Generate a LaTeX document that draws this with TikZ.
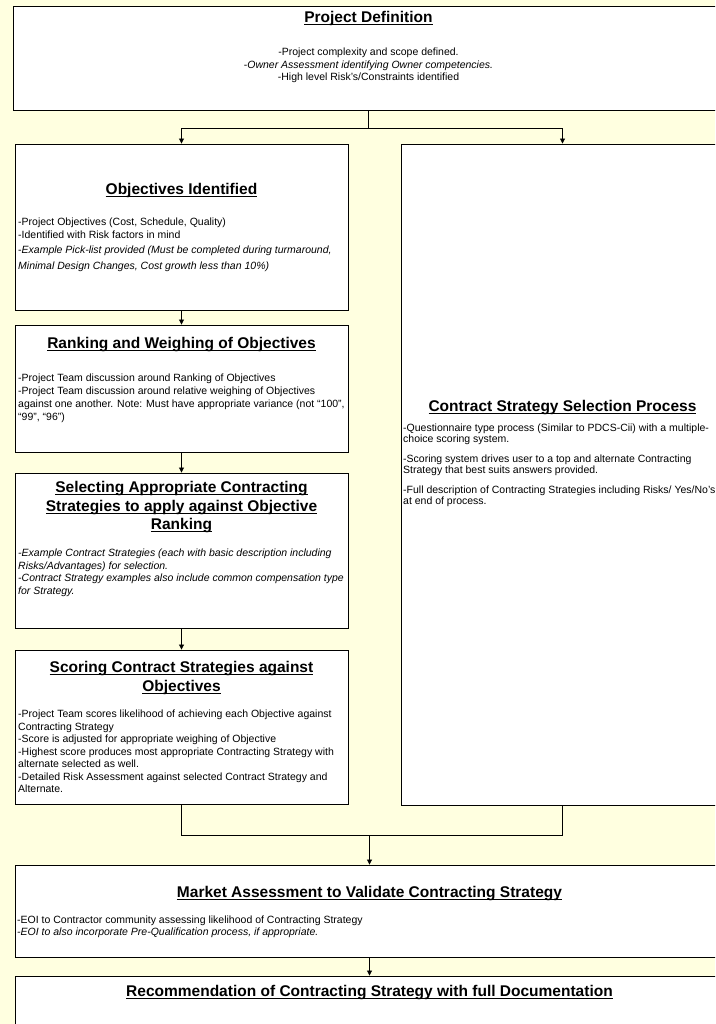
\documentclass[tikz,border=0pt]{standalone}
\usepackage{fontspec}
\setmainfont{Liberation Sans}
\usepackage{tikz}
\usetikzlibrary{arrows.meta,fit}
\definecolor{paper}{RGB}{255,255,224}
\newcommand{\lines}{0.9pt}
\newcommand{\titlesize}{\fontsize{15.5}{18.7}\selectfont\bfseries}
\newcommand{\bodysize}{\fontsize{10.5}{12.5}\selectfont}
\newcommand{\undertitle}[1]{\setbox0\hbox{#1}\rlap{\rule[-2.6pt]{\wd0}{1.2pt}}\box0}

\begin{document}
\begin{tikzpicture}[x=1pt, y=-1pt,
    box/.style = {draw=black, fill=white, line width=\lines, inner sep=0pt},
    flow/.style = {draw=black, line width=0.8pt},
    arr/.style = {flow, -{Triangle[length=5pt,width=5pt]}},
    head/.style = {inner sep=0pt, anchor=north, align=center, font=\titlesize},
    body/.style = {inner sep=0pt, anchor=north west, align=left, font=\bodysize},
    mid/.style = {body, anchor=north, align=center}]
    \useasboundingbox (0,0) rectangle (715,1024);
    \fill[paper] (0,0) rectangle (715,1024);
    \clip (0,0) rectangle (715,1024);
    %\draw[help lines, step=50] (0,0) grid (715,1024);
    % boxes, the wide ones run off the right edge
    \foreach \nm/\xa/\ya/\xb/\yb in {defn/13/6/724/110, obj/15/144/348/310,
            rank/15/325/348/452, sel/15/473/348/628, score/15/650/348/804,
            csp/401/144/724/805, market/15/865/724/957, recom/15/976/724/1090} {
        \node[box, fit={(\xa,\ya) (\xb,\yb)}] (\nm) {};
    }
    % connectors
    \draw[flow] (defn.south) -- ++(0,18) coordinate (split);
    \draw[arr] (split) -| (obj.north);
    \draw[arr] (split) -| (csp.north);
    \foreach \a/\b in {obj/rank, rank/sel, sel/score} {
        \draw[arr] (\a) -- (\b);
    }
    \draw[flow] (score.south) -- ++(0,31) coordinate (join) -| (csp.south);
    \draw[arr] (join -| market.north) -- (market.north);
    \draw[arr] (market) -- (recom);

    % texts
    \node[head] (defnhead) at (368.5,11) {\undertitle{Project Definition}};
    \node[mid] (defntext) at (368.5,48) {-Project complexity and scope defined.\\
        -\textit{Owner Assessment identifying Owner competencies.}\\
        -High level Risk's/Constraints identified};

    \node[head] (objhead) at (181.5,183) {\undertitle{Objectives Identified}};
    \node[body] (objtext) at (18,218) {-Project Objectives (Cost, Schedule, Quality)\\
        -Identified with Risk factors in mind\\[2.5pt]%
-\textit{Example Pick-list provided (Must be completed during turmaround,}\\[4pt]%
\textit{Minimal Design Changes, Cost growth less than 10\%)}};

    \node[head] (rankhead) at (181.5,337) {\undertitle{Ranking and Weighing of Objectives}};
    \node[body, font=\fontsize{10.5}{13}\selectfont] (ranktext) at (18,374) {-Project Team discussion around Ranking of Objectives\\
        -Project Team discussion around relative weighing of Objectives\\
        against one another. Note: Must have appropriate variance (not “100”,\\
        “99”, “96”)};

    \node[head] (selhead) at (181.5,481) {\undertitle{Selecting Appropriate Contracting}\\
        \undertitle{Strategies to apply against Objective}\\
        \undertitle{Ranking}};
    \node[body, font=\bodysize\itshape] (seltext) at (18,549) {-Example Contract Strategies (each with basic description including\\
        Risks/Advantages) for selection.\\
        -Contract Strategy examples also include common compensation type\\
        for Strategy.};

    \node[head] (scorehead) at (181.5,661) {\undertitle{Scoring Contract Strategies against}\\
        \undertitle{Objectives}};
    \node[body] (scoretext) at (18,710) {-Project Team scores likelihood of achieving each Objective against\\
        Contracting Strategy\\
        -Score is adjusted for appropriate weighing of Objective\\
        -Highest score produces most appropriate Contracting Strategy with\\
        alternate selected as well.\\
        -Detailed Risk Assessment against selected Contract Strategy and\\
        Alternate.};

    \node[head] (csphead) at (562.5,400) {\undertitle{Contract Strategy Selection Process}};
    \node[body, font=\fontsize{10.5}{10.5}\selectfont] (csptext) at (403,424) {-Questionnaire type process (Similar to PDCS-Cii) with a multiple-\\
        choice scoring system.\\[10pt]%
-Scoring system drives user to a top and alternate Contracting\\
        Strategy that best suits answers provided.\\[10pt]%
-Full description of Contracting Strategies including Risks/ Yes/No's\\
        at end of process.};

    \node[head] (markethead) at (369.5,886) {\undertitle{Market Assessment to Validate Contracting Strategy}};
    \node[body, font=\fontsize{10.5}{12}\selectfont] (markettext) at (17,916) {-EOI to Contractor community assessing likelihood of Contracting Strategy\\
        \textit{-EOI to also incorporate Pre-Qualification process, if appropriate.}};

    \node[head] (recomhead) at (369.5,985) {\undertitle{Recommendation of Contracting Strategy with full Documentation}};
\end{tikzpicture}
\end{document}
